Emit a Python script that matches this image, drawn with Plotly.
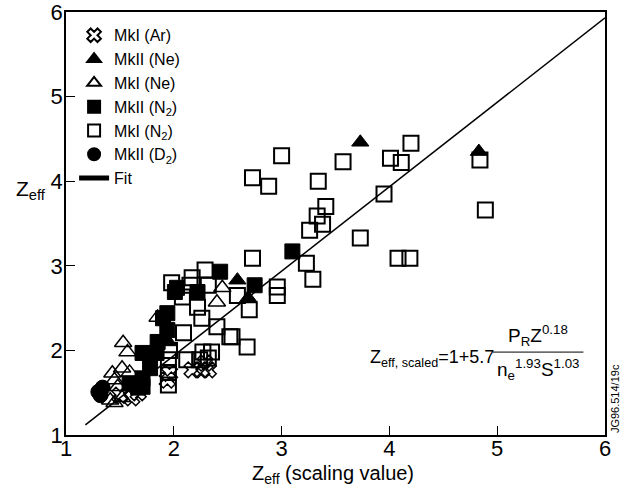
import plotly.graph_objects as go

# MkI (Ar)
ar_x = [2.17, 2.26, 2.32, 2.29, 1.96, 1.67, 1.61, 1.50, 1.94]
ar_y = [1.77, 1.77, 1.77, 1.85, 1.73, 1.50, 1.44, 1.47, 1.65]

# MkII (Ne)
ne2_x = [3.73, 4.83, 2.59, 2.69, 1.95]
ne2_y = [4.46, 4.35, 2.83, 2.62, 2.10]

# MkI (Ne)
ne1_x = [1.85, 1.53, 1.57, 1.43, 1.52, 1.59, 1.48, 1.45, 1.52, 1.41, 1.45, 2.45, 2.40]
ne1_y = [2.39, 2.09, 1.98, 1.73, 1.79, 1.74, 1.57, 1.65, 1.44, 1.41, 1.38, 2.74, 2.57]

# MkII (N2)
n22_x = [3.10, 2.75, 2.43, 2.03, 2.22, 1.90, 1.94, 1.94, 1.85, 1.71, 1.78, 1.71, 1.71, 1.59, 1.67, 1.84, 2.01]
n22_y = [3.17, 2.77, 2.93, 2.74, 2.69, 2.38, 2.44, 2.24, 2.10, 1.97, 1.79, 1.67, 1.57, 1.61, 1.56, 1.97, 2.69]

# MkI (N2)
n21_x = [3.00, 3.57, 2.73, 2.88, 3.34, 3.41, 3.33, 3.38, 3.26, 3.73, 4.20, 4.01, 4.11, 3.95,
         4.84, 4.89, 4.08, 4.19, 2.73, 3.23, 3.29, 2.96, 2.96, 2.70, 2.68, 2.54,
         2.29, 2.17, 1.98, 2.15, 2.32, 2.08, 2.59, 2.22, 2.26, 2.40, 2.09, 2.52,
         1.95, 1.96, 2.12, 2.27, 2.35, 2.24, 2.32, 1.95, 1.95]
n21_y = [4.30, 4.23, 4.04, 3.94, 4.00, 3.70, 3.59, 3.49, 3.42, 3.33, 4.45, 4.27, 4.22, 3.85,
         4.25, 3.66, 3.09, 3.09, 3.09, 3.03, 2.84, 2.75, 2.65, 2.48, 2.04, 2.16,
         2.95, 2.86, 2.80, 2.77, 2.77, 2.63, 2.65, 2.51, 2.38, 2.28, 2.21, 2.16,
         1.89, 2.00, 1.89, 1.98, 1.98, 1.89, 1.91, 1.59, 1.74]

# MkII (D2)
d2_x = [1.30, 1.34, 1.32]
d2_y = [1.51, 1.56, 1.47]

# Fit
fit_x = [1.18, 6.0]
fit_y = [1.12, 5.93]

FONT = "Arial, Liberation Sans, sans-serif"
fig = go.Figure()

def add(x, y, name, sym, rank, size=15, lw=2):
    fig.add_trace(go.Scatter(x=x, y=y, mode="markers", name=name, legendrank=rank,
                             marker=dict(symbol=sym, size=size, color="black",
                                         line=dict(color="black", width=lw))))

add(n21_x, n21_y, "MkI (N<sub>2</sub>)", "square-open", 5, 15, 2)
add(ar_x, ar_y, "MkI (Ar)", "x-open", 1, 14, 1.5)
add(ne2_x, ne2_y, "MkII (Ne)", "triangle-up", 2, 15, 1)
add(ne1_x, ne1_y, "MkI (Ne)", "triangle-up-open", 3, 15, 1.5)
add(n22_x, n22_y, "MkII (N<sub>2</sub>)", "square", 4, 15, 1)
add(d2_x, d2_y, "MkII (D<sub>2</sub>)", "circle", 6, 15, 1)
fig.add_trace(go.Scatter(x=fit_x, y=fit_y, mode="lines", name="Fit", legendrank=7,
                         line=dict(color="black", width=1.5)))

axis_common = dict(showgrid=False, zeroline=False, showline=True, linecolor="black",
                   linewidth=1.5, mirror=True, ticks="inside", ticklen=9, tickwidth=1,
                   tickcolor="black", automargin=False, ticklabeloverflow="allow",
                   tickfont=dict(size=22, color="black", family=FONT))
fig.update_xaxes(range=[1, 6], tickvals=[1, 2, 3, 4, 5, 6], ticklabelstandoff=-7, **axis_common)
fig.update_yaxes(range=[1, 6], tickvals=[1, 2, 3, 4, 5, 6], ticklabelstandoff=-3, **axis_common)

ann = []
ann.append(dict(text="Z<sub>eff</sub> (scaling value)", xref="paper", yref="paper", x=0.495, y=-0.093,
                xanchor="center", yanchor="middle",
                showarrow=False, font=dict(size=20, family=FONT, color="black")))
ann.append(dict(text="Z<sub>eff</sub>", xref="paper", yref="paper", x=-0.097, y=0.58,
                xanchor="left", yanchor="middle",
                showarrow=False, font=dict(size=21, family=FONT, color="black")))
ann.append(dict(text="Z<sub>eff, scaled</sub>=1+5.7", xref="x", yref="y", x=3.8, y=1.9,
                xanchor="left", showarrow=False, font=dict(size=18, family=FONT, color="black")))
ann.append(dict(text="P<sub>R</sub>Z<sup>0.18</sup>", xref="x", yref="y", x=5.38, y=2.18,
                showarrow=False, font=dict(size=19, family=FONT, color="black")))
ann.append(dict(text="n<sub>e</sub><sup>1.93</sup>S<sup>1.03</sup>", xref="x", yref="y", x=5.38, y=1.78,
                showarrow=False, font=dict(size=19, family=FONT, color="black")))
ann.append(dict(text="JG96.514/19c", xref="paper", yref="paper", x=1.003, y=0.0, textangle=-90,
                xanchor="left", yanchor="bottom",
                showarrow=False, font=dict(size=11, family=FONT, color="black")))

fig.add_shape(type="line", xref="x", yref="y", x0=4.96, x1=5.80, y0=1.98, y1=1.98,
              line=dict(color="black", width=1))

fig.update_layout(
    width=627, height=491, paper_bgcolor="white", plot_bgcolor="white",
    margin=dict(l=66, r=22, t=12, b=56),
    annotations=ann,
    font=dict(family=FONT, color="black"),
    legend=dict(x=0.015, y=0.985, xanchor="left", yanchor="top", bgcolor="rgba(0,0,0,0)",
                font=dict(size=16, family=FONT, color="black"), tracegroupgap=0,
                itemsizing="constant"),
)
fig.write_html("out.html")
